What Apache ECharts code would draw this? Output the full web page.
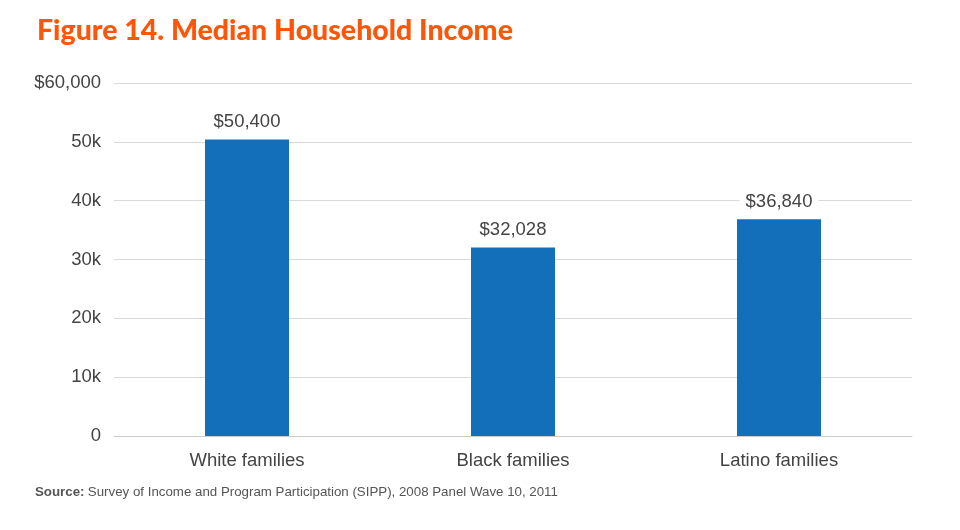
<!DOCTYPE html>
<html><head><meta charset="utf-8">
<script src="https://cdn.jsdelivr.net/npm/echarts@6/dist/echarts.min.js"></script>
<style>html,body{margin:0;padding:0;background:#fff}#c{width:960px;height:530px}</style>
</head><body><div id="c"></div>
<script>
var categories = ['White families', 'Black families', 'Latino families'];
var values = [50400, 32028, 36840];
var yTicks = {0:'0',10000:'10k',20000:'20k',30000:'30k',40000:'40k',50000:'50k',60000:'$60,000'};
var chart = echarts.init(document.getElementById('c'));
chart.setOption({
  animation:false,
  title:{text:'Figure 14. Median Household Income',left:32,top:11,textStyle:{color:'#ff5508',fontFamily:'Lato',fontWeight:900,fontSize:28.5}},
  graphic:[{type:'text',left:35,top:486,style:{rich:{b:{fontWeight:'bold',fontFamily:'Liberation Sans',fontSize:13.3,fill:'#555'},n:{fontFamily:'Liberation Sans',fontSize:13.3,fill:'#555'}},text:'{b|Source:} {n|Survey of Income and Program Participation (SIPP), 2008 Panel Wave 10, 2011}'}}],
  grid:{left:114,right:48,top:83,bottom:94},
  xAxis:{type:'category',data:categories,axisLine:{lineStyle:{color:'#ccc'}},axisTick:{show:false},
    axisLabel:{color:'#444',fontFamily:'Liberation Sans',fontSize:18.5,margin:15}},
  yAxis:{type:'value',min:0,max:60000,interval:10000,axisLine:{show:false},axisTick:{show:false},
    splitLine:{lineStyle:{color:'#d9d9d9'}},
    axisLabel:{color:'#444',fontFamily:'Liberation Sans',fontSize:18.5,margin:13,formatter:function(v){return yTicks[v];}}},
  series:[{type:'bar',data:values,barWidth:84,itemStyle:{color:'#136fba'},
    label:{show:true,position:'top',distance:8,color:'#444',fontFamily:'Liberation Sans',fontSize:18.5,backgroundColor:'#fff',padding:[0,6],
      formatter:function(p){return '$'+p.value.toLocaleString('en-US');}}}]
});
</script></body></html>
